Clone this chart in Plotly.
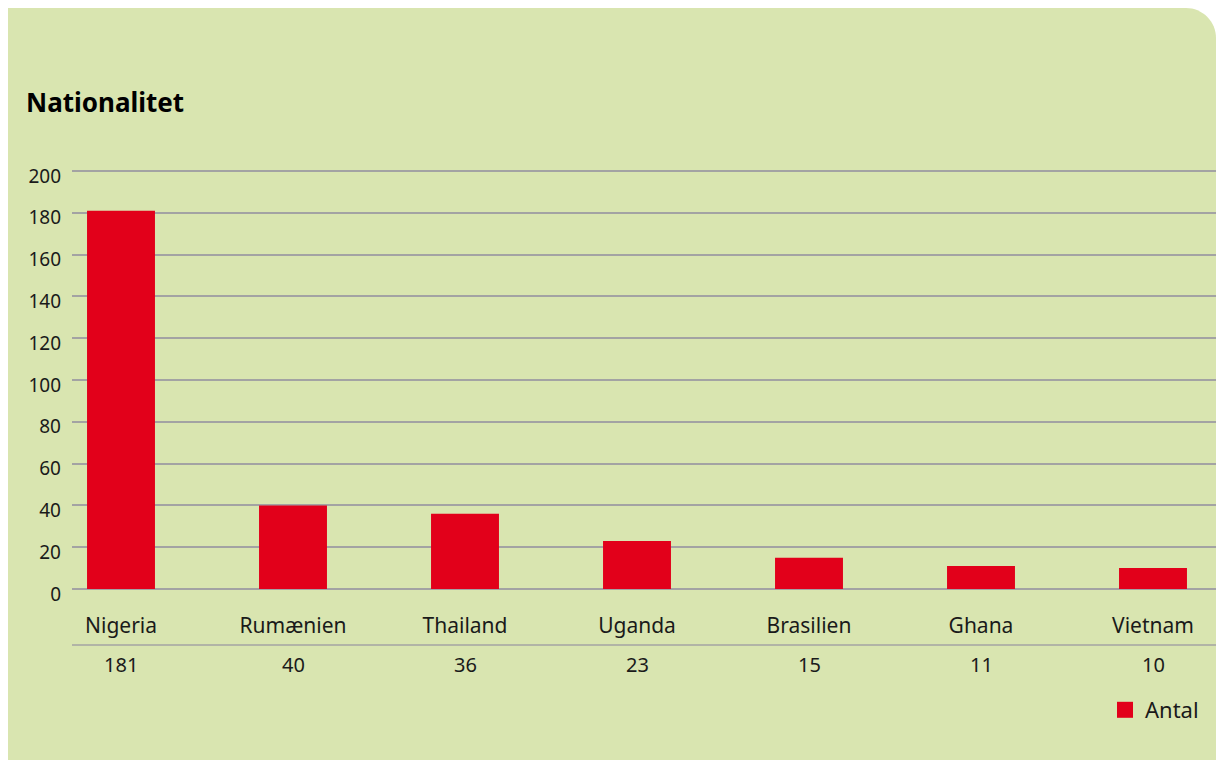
import plotly.graph_objects as go

categories = ["Nigeria", "Rumænien", "Thailand", "Uganda", "Brasilien", "Ghana", "Vietnam"]
antal = [181, 40, 36, 23, 15, 11, 10]
y_ticks = [0, 20, 40, 60, 80, 100, 120, 140, 160, 180, 200]
title_text = "Nationalitet"
series_name = "Antal"

W, H = 1216, 760
L, R, T, B = 72, 0, 160, 171
PW, PH = W - L - R, H - T - B
Y_TOP = 200 * PH / 418.0

def px(x):
    return (x - L) / PW

def py(y):
    return (H - B - y) / PH

GREEN = "#d9e5b0"
RED = "#e2001a"
GRID = "#a3a3a3"
TXT = "#1a1a1a"
FONT = "Noto Sans"

fig = go.Figure()
fig.add_trace(go.Bar(
    x=list(range(len(categories))), y=antal, name=series_name,
    marker=dict(color=RED, line=dict(width=0)), width=0.395,
    showlegend=False, hoverinfo="skip",
))
# legend entry with a larger square swatch
fig.add_trace(go.Scatter(
    x=[None], y=[None], mode="markers", name=series_name,
    marker=dict(symbol="square", size=17, color=RED), showlegend=True,
))

# background panel with rounded top-right corner
r = 30
path = (f"M {px(8)},{py(H)} L {px(8)},{py(8)} L {px(W - r)},{py(8)} "
        f"C {px(W - r * 0.45)},{py(8)} {px(W)},{py(8 + r * 0.45)} {px(W)},{py(8 + r)} "
        f"L {px(W)},{py(H)} Z")
shapes = [
    dict(type="path", xref="paper", yref="paper", path=path,
         fillcolor=GREEN, line=dict(width=0), layer="below"),
    dict(type="line", xref="paper", yref="paper", x0=0, x1=1, y0=py(645), y1=py(645),
         line=dict(color=GRID, width=1.5)),
]

annotations = []
for i, v in enumerate(antal):
    annotations.append(dict(x=i, xref="x", y=py(664), yref="paper", text=str(v),
                            showarrow=False, font=dict(family=FONT, size=20, color=TXT),
                            xanchor="center", yanchor="middle"))

fig.update_layout(
    width=W, height=H,
    margin=dict(l=L, r=R, t=T, b=B, pad=0),
    paper_bgcolor="white",
    plot_bgcolor="rgba(0,0,0,0)",
    title=dict(text=f"<b>{title_text}</b>", x=26 / W, xanchor="left", xref="container",
               y=1 - 103 / H, yanchor="middle", yref="container",
               font=dict(family=FONT, size=26, color="#000000")),
    font=dict(family=FONT, color=TXT),
    shapes=shapes,
    annotations=annotations,
    showlegend=True,
    legend=dict(x=px(1204), xanchor="right", y=py(710), yanchor="middle",
                xref="paper", yref="paper", bgcolor="rgba(0,0,0,0)",
                font=dict(family=FONT, size=22, color=TXT), itemwidth=30,
                itemsizing="trace"),
    xaxis=dict(
        tickmode="array", tickvals=list(range(len(categories))), ticktext=categories,
        range=[-(121 - L) / 172, 6 + (W - 1153) / 172],
        showgrid=False, zeroline=False, showline=False, ticks="",
        tickfont=dict(family=FONT, size=21, color=TXT),
        ticklabelstandoff=22,
    ),
    yaxis=dict(
        range=[0, Y_TOP], tickmode="array", tickvals=y_ticks,
        showgrid=True, gridcolor=GRID, gridwidth=1.5,
        zeroline=True, zerolinecolor=GRID, zerolinewidth=1.5,
        showline=False, ticks="",
        tickfont=dict(family=FONT, size=19, color=TXT),
        ticklabelstandoff=10, ticklabelshift=5,
    ),
)

fig.write_html("out.html", config={"displayModeBar": False},
               post_script="document.body.style.margin='0';document.body.style.overflow='hidden';")
